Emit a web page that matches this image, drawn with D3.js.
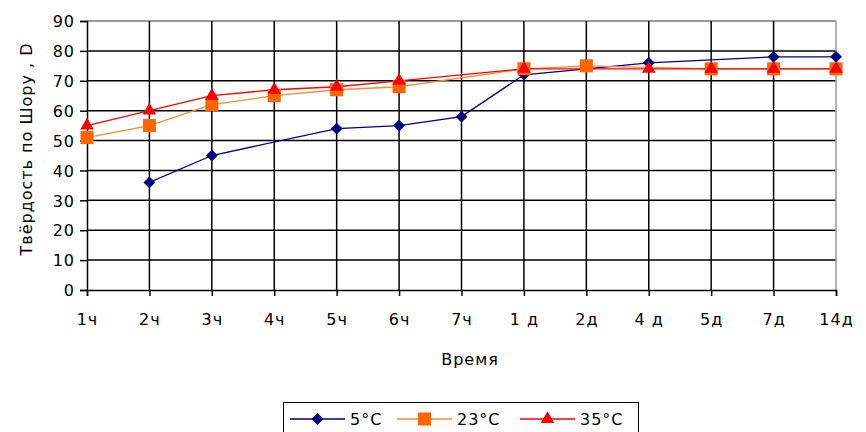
<!DOCTYPE html>
<html><head><meta charset="utf-8">
<script src="https://cdn.jsdelivr.net/npm/d3@7"></script>
<style>body{margin:0;background:#fff}svg{display:block}text{font-family:"DejaVu Sans",sans-serif;fill:#000;letter-spacing:1px}</style>
</head><body>
<svg id="c" width="866" height="432"></svg>
<script>
const categories = ["1ч","2ч","3ч","4ч","5ч","6ч","7ч","1 д","2д","4 д","5д","7д","14д"];
const s5  = [null,36,45,null,54,55,58,72,null,76,null,78,78];
const s23 = [51,55,62,65,67,68,null,74,75,null,74,74,74];
const s35 = [55,60,65,67,68,70,null,74,null,74,74,74,74];
const yTicks = [0,10,20,30,40,50,60,70,80,90];
const seriesNames = ["5°C","23°C","35°C"];

const FONT = "DejaVu Sans, sans-serif";
const svg = d3.select("#c");
const L=87, R=836, T=21, B=290;
const x = d3.scalePoint().domain(categories).range([L,R]);
const y = d3.scaleLinear().domain([0,90]).range([B,T]);

// gridlines
const g = svg.append("g");
g.selectAll(".hg").data(yTicks.filter(v=>v>0)).enter().append("line")
  .attr("x1",L).attr("x2",R).attr("y1",d=>y(d)).attr("y2",d=>y(d))
  .attr("stroke",d=>d===90?"#777":"#000").attr("stroke-width",1.5);
g.selectAll(".vg").data(categories.slice(1,-1)).enter().append("line")
  .attr("x1",d=>x(d)).attr("x2",d=>x(d)).attr("y1",T).attr("y2",B)
  .attr("stroke","#000").attr("stroke-width",1.5);
g.append("line").attr("x1",R).attr("x2",R).attr("y1",T).attr("y2",B).attr("stroke","#999").attr("stroke-width",1.5);

// axes
const yAxis = svg.append("g").attr("transform",`translate(${L},0)`)
  .call(d3.axisLeft(y).tickValues(yTicks).tickSize(7).tickPadding(5));
const xAxis = svg.append("g").attr("transform",`translate(0,${B})`)
  .call(d3.axisBottom(x).tickSize(6).tickPadding(20));
[yAxis,xAxis].forEach(a=>{
  a.select(".domain").attr("stroke","#000").attr("stroke-width",1.5);
  a.selectAll(".tick line").attr("stroke","#000").attr("stroke-width",1.5);
  a.selectAll("text").attr("font-size",16).attr("font-family",FONT).attr("fill","#000");
});
yAxis.selectAll("text").attr("dy","0.36em");
xAxis.selectAll("text").attr("dy","0.55em");

// axis titles
svg.append("text").attr("transform","translate(32,149) rotate(-90)")
  .attr("text-anchor","middle").attr("font-size",16).text("Твёрдость по Шору , D");
svg.append("text").attr("x",470).attr("y",365).attr("text-anchor","middle")
  .attr("font-size",16).text("Время");

// series
const defs = [
  {data:s5, line:"#000080", fill:"#000080", sym:d3.symbolDiamond2, size:90},
  {data:s23, line:"#FF8833", fill:"#FF6600", sym:d3.symbolSquare, size:170},
  {data:s35, line:"#FF0000", fill:"#FF0000", sym:d3.symbolTriangle, size:80}
];
const lineGen = d3.line().x(d=>x(d.c)).y(d=>y(d.v));
defs.forEach(s=>{
  const pts = categories.map((c,i)=>({c, v:s.data[i]})).filter(d=>d.v!=null);
  svg.append("path").datum(pts).attr("d",lineGen).attr("fill","none")
    .attr("stroke",s.line).attr("stroke-width",1.3);
});
defs.forEach(s=>{
  const pts = categories.map((c,i)=>({c, v:s.data[i]})).filter(d=>d.v!=null);
  svg.selectAll(null).data(pts).enter().append("path")
    .attr("d",d3.symbol().type(s.sym).size(s.size))
    .attr("transform",d=>`translate(${x(d.c)},${y(d.v)})`)
    .attr("fill",s.fill);
});

// legend
const lg = svg.append("g");
lg.append("rect").attr("x",283.5).attr("y",402.5).attr("width",355).attr("height",40)
  .attr("fill","#fff").attr("stroke","#000").attr("stroke-width",1);
const lx = [290,397,520];
defs.forEach((s,i)=>{
  lg.append("line").attr("x1",lx[i]).attr("x2",lx[i]+55).attr("y1",419).attr("y2",419)
    .attr("stroke",s.line).attr("stroke-width",1.3);
  lg.append("path").attr("d",d3.symbol().type(s.sym).size(s.size))
    .attr("transform",`translate(${lx[i]+27.5},419)`).attr("fill",s.fill);
  lg.append("text").attr("x",lx[i]+60).attr("y",425).attr("font-size",16).text(seriesNames[i]);
});
</script>
</body></html>
